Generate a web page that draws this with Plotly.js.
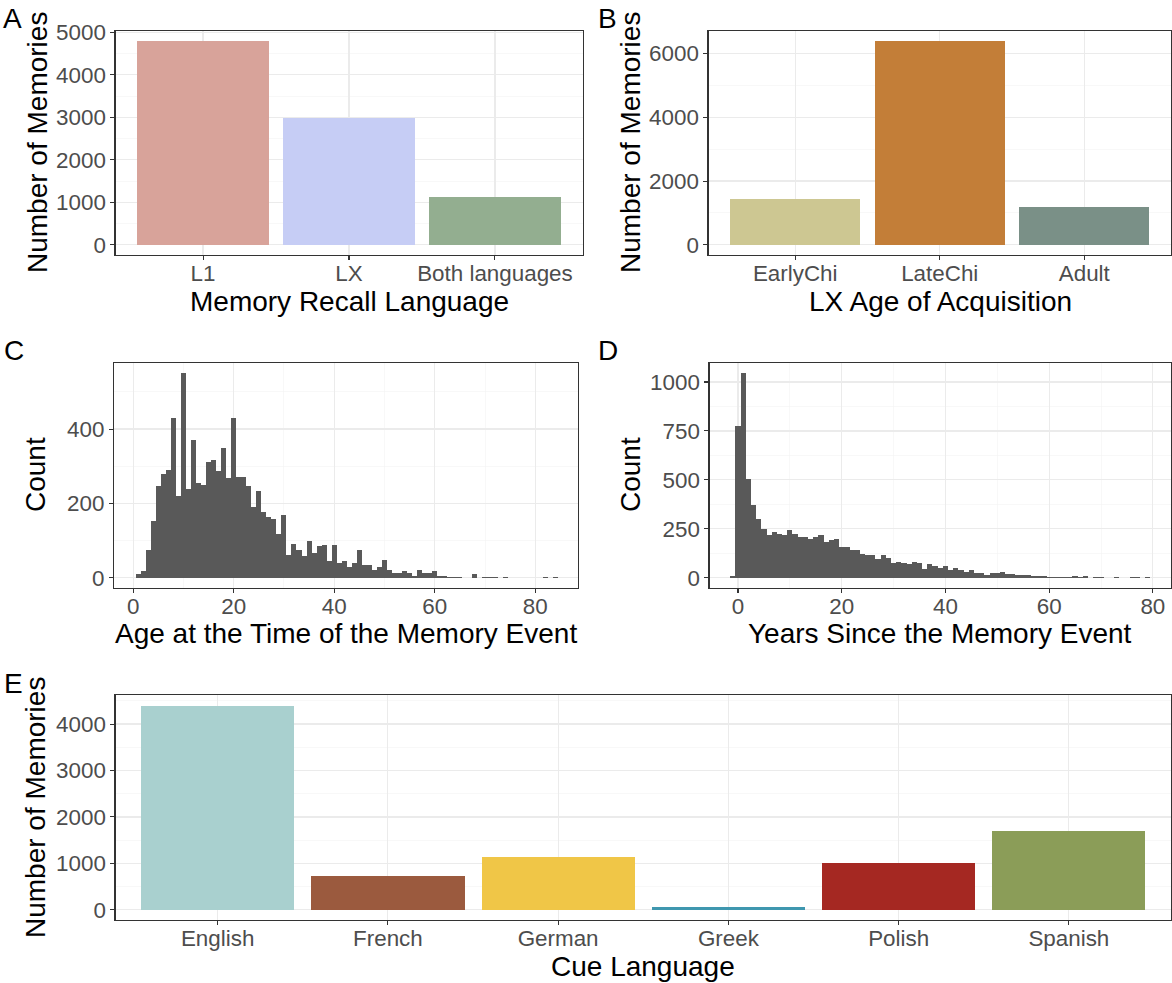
<!DOCTYPE html>
<html>
<head>
<meta charset="utf-8">
<script src="https://cdn.plot.ly/plotly-3.0.1.min.js"></script>
<style>html,body{margin:0;padding:0;background:#fff}#chart{width:1172px;height:983px}</style>
</head>
<body>
<div id="chart"></div>
<script>
// ---------- DATA ----------
const recallLanguages = ["L1", "LX", "Both languages"];
const recallCounts = [4800, 2990, 1130];
const recallColors = ["#D8A39A", "#C6CDF5", "#93AE90"];

const aoaGroups = ["EarlyChi", "LateChi", "Adult"];
const aoaCounts = [1435, 6400, 1185];
const aoaColors = ["#CDC792", "#C37E38", "#7A9087"];

const ageAtEventBins = [1,2,3,4,5,6,7,8,9,10,11,12,13,14,15,16,17,18,19,20,21,22,23,24,25,26,27,28,29,30,31,32,33,34,35,36,37,38,39,40,41,42,43,44,45,46,47,48,49,50,51,52,53,54,55,56,57,58,59,60,61,62,63,64,65,66,67,68,69,70,71,72,73,74,75,76,77,78,79,80,81,82,83,84];
const ageAtEventCounts = [9,17,76,152,246,280,289,430,219,551,238,370,254,249,311,316,287,349,268,430,271,271,246,190,233,176,163,157,117,168,60,90,74,58,98,66,85,87,44,87,41,44,28,39,76,33,33,22,28,47,20,14,12,17,14,6,22,12,12,17,4,6,3,3,3,0,0,9,0,1,1,1,0,1,0,0,0,0,0,0,0,1,0,1];

const yearsSinceBins = [-1,0,1,2,3,4,5,6,7,8,9,10,11,12,13,14,15,16,17,18,19,20,21,22,23,24,25,26,27,28,29,30,31,32,33,34,35,36,37,38,39,40,41,42,43,44,45,46,47,48,49,50,51,52,53,54,55,56,57,58,59,60,61,62,63,64,65,66,67,68,69,70,71,72,73,74,75,76,77,78,79];
const yearsSinceCounts = [7,775,1046,503,370,299,247,217,232,222,217,242,222,206,206,196,206,217,181,191,196,155,155,140,140,119,114,114,94,114,99,73,78,73,68,78,73,43,68,58,48,58,38,48,38,27,38,22,22,12,22,22,27,17,17,12,12,12,7,7,7,2,2,2,2,2,7,2,7,0,2,2,0,0,2,0,0,2,2,0,2];

const cueLanguages = ["English", "French", "German", "Greek", "Polish", "Spanish"];
const cueCounts = [4380, 725, 1130, 64, 1009, 1705];
const cueColors = ["#A9D0CF", "#9B5A3E", "#F0C647", "#3F97AF", "#A52822", "#8B9D58"];

const histColor = "#595959";

// ---------- LAYOUT HELPERS ----------
const W = 1172, H = 983;
const FONT = "Liberation Sans, Arial, Helvetica, sans-serif";
const TICK_SIZE = 22.4, TITLE_SIZE = 28;
const px = x => x / W;
const py = y => 1 - y / H;

function baseAxis(extra) {
  return Object.assign({
    showline: true, mirror: true, linecolor: "#333333", linewidth: 1.1,
    ticks: "outside", ticklen: 4, tickcolor: "#333333", tickwidth: 1.1,
    tickfont: {family: FONT, size: TICK_SIZE, color: "#4D4D4D"},
    showgrid: true, gridcolor: "#EBEBEB", gridwidth: 1.2,
    zeroline: false, fixedrange: true
  }, extra);
}
function xAxis(extra) {
  return baseAxis(Object.assign({ticklabelstandoff: -6}, extra));
}
function minorGrid(dtick) {
  return {dtick: dtick, showgrid: true, gridcolor: "#F3F3F3", gridwidth: 0.6, ticks: ""};
}

const traces = [
  {type: "bar", x: recallLanguages, y: recallCounts, width: 0.9,
   marker: {color: recallColors, line: {width: 0}}, xaxis: "x", yaxis: "y", hoverinfo: "x+y"},
  {type: "bar", x: aoaGroups, y: aoaCounts, width: 0.9,
   marker: {color: aoaColors, line: {width: 0}}, xaxis: "x2", yaxis: "y2", hoverinfo: "x+y"},
  {type: "bar", x: ageAtEventBins, y: ageAtEventCounts, width: 1,
   marker: {color: histColor, line: {width: 0}}, xaxis: "x3", yaxis: "y3", hoverinfo: "x+y"},
  {type: "bar", x: yearsSinceBins, y: yearsSinceCounts, width: 1,
   marker: {color: histColor, line: {width: 0}}, xaxis: "x4", yaxis: "y4", hoverinfo: "x+y"},
  {type: "bar", x: cueLanguages, y: cueCounts, width: 0.9,
   marker: {color: cueColors, line: {width: 0}}, xaxis: "x5", yaxis: "y5", hoverinfo: "x+y"}
];

const rowTop = [30.7, 362.7, 695.3], rowBot = [255, 588, 920];

const layout = {
  width: W, height: H,
  margin: {l: 0, r: 0, t: 0, b: 0},
  paper_bgcolor: "#FFFFFF", plot_bgcolor: "#FFFFFF",
  showlegend: false, bargap: 0,
  font: {family: FONT},
  // Panel A
  xaxis: xAxis({domain: [px(115.5), px(582.5)], anchor: "y", type: "category", range: [-0.6, 2.6]}),
  yaxis: baseAxis({domain: [py(rowBot[0]), py(rowTop[0])], anchor: "x", range: [-240, 5040], dtick: 1000, minor: minorGrid(500)}),
  // Panel B
  xaxis2: xAxis({domain: [px(708.5), px(1171)], anchor: "y2", type: "category", range: [-0.6, 2.6]}),
  yaxis2: baseAxis({domain: [py(rowBot[0]), py(rowTop[0])], anchor: "x2", range: [-320, 6720], dtick: 2000, minor: minorGrid(1000)}),
  // Panel C
  xaxis3: xAxis({domain: [px(114), px(578)], anchor: "y3", range: [-3.8, 88.5], dtick: 20, minor: minorGrid(10)}),
  yaxis3: baseAxis({domain: [py(rowBot[1]), py(rowTop[1])], anchor: "x3", range: [-27.6, 578.6], dtick: 200, minor: minorGrid(100)}),
  // Panel D
  xaxis4: xAxis({domain: [px(709.5), px(1171)], anchor: "y4", range: [-5.5, 83.5], dtick: 20, minor: minorGrid(10)}),
  yaxis4: baseAxis({domain: [py(rowBot[1]), py(rowTop[1])], anchor: "x4", range: [-52.3, 1098.3], dtick: 250, minor: minorGrid(125)}),
  // Panel E
  xaxis5: xAxis({domain: [px(115.5), px(1171)], anchor: "y5", type: "category", range: [-0.6, 5.6]}),
  yaxis5: baseAxis({domain: [py(rowBot[2]), py(rowTop[2])], anchor: "x5", range: [-220, 4620], dtick: 1000, minor: minorGrid(500)}),
  annotations: []
};

function addText(text, x, y, opts) {
  layout.annotations.push(Object.assign({
    text: text, xref: "paper", yref: "paper", x: px(x), y: py(y),
    xanchor: "center", yanchor: "middle", showarrow: false,
    font: {family: FONT, size: TITLE_SIZE, color: "#000000"}
  }, opts || {}));
}

// x-axis titles
addText("Memory Recall Language", 349, 301);
addText("LX Age of Acquisition", 940, 301);
addText("Age at the Time of the Memory Event", 346, 633);
addText("Years Since the Memory Event", 940, 633);
addText("Cue Language", 643, 966);
// y-axis titles
addText("Number of Memories", 37, 143, {textangle: -90});
addText("Number of Memories", 630, 143, {textangle: -90});
addText("Count", 35, 475, {textangle: -90});
addText("Count", 630, 475, {textangle: -90});
addText("Number of Memories", 35, 808, {textangle: -90});
// panel tags
addText("A", 1, 18, {xanchor: "left"});
addText("B", 596, 18, {xanchor: "left"});
addText("C", 2, 350, {xanchor: "left"});
addText("D", 596, 350, {xanchor: "left"});
addText("E", 2, 683, {xanchor: "left"});

Plotly.newPlot("chart", traces, layout, {displayModeBar: false, staticPlot: true});
</script>
</body>
</html>
